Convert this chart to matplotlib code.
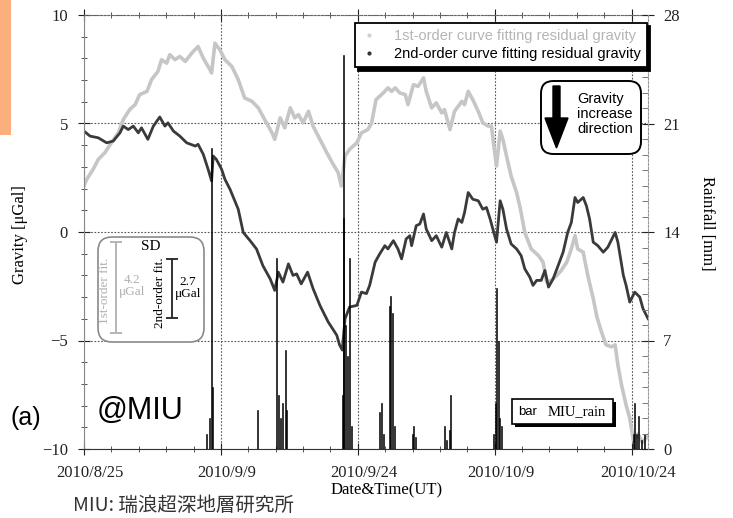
import matplotlib.pyplot as plt
import numpy as np
from matplotlib.lines import Line2D
from matplotlib.patches import FancyBboxPatch, FancyArrow, Rectangle
import matplotlib.transforms as mtransforms

plt.rcParams['font.family'] = ['Liberation Serif', 'DejaVu Serif']

# time axis: days since 2010/8/25 00:00 UT
g1_day = [0.0, 0.3, 1.0, 1.57, 2.3, 3.0, 3.76, 4.3, 5.0, 5.6, 6.1, 6.9, 7.4, 8.1, 8.5,
          9.06, 9.4, 9.97, 10.5, 11.1, 11.8, 12.5, 13.07, 13.8, 13.98, 14.35, 14.9,
          15.44, 16.2, 16.9, 17.6, 18.4, 19.1, 19.8, 20.6, 20.9, 21.5, 22.0, 22.6,
          23.1, 23.5, 24.0, 24.6, 25.1, 25.85, 26.6, 27.3, 27.85, 28.2, 28.6, 29.1,
          29.9, 30.4, 31.1, 31.5, 32.0, 32.8, 33.3, 33.7, 34.1, 34.6, 35.2, 35.5,
          36.1, 36.6, 37.2, 37.5, 38.1, 38.6, 39.2, 39.5, 40.1, 40.6, 41.0, 41.4,
          41.7, 42.1, 42.6, 43.2, 43.7, 44.3, 44.65, 45.0, 45.2, 45.6, 45.9, 46.3,
          46.8, 47.4, 47.8, 48.3, 49.0, 49.8, 50.3, 50.7, 51.2, 51.8, 52.3, 52.9,
          53.4, 53.8, 54.1, 54.7, 55.2, 55.8, 56.2, 56.7, 57.2, 57.8, 58.2, 58.5,
          58.9, 59.4, 59.8, 60.2, 60.7, 61.2, 61.8]
g1_val = [2.12, 2.43, 2.89, 3.35, 3.66, 4.11, 4.57, 5.18, 5.64, 5.87, 6.33, 6.48, 7.02,
          7.4, 7.94, 7.78, 8.17, 7.94, 8.09, 7.86, 8.24, 8.55, 8.01, 7.48, 7.33, 8.7,
          8.39, 7.94, 7.63, 7.02, 6.18, 6.02, 5.72, 5.18, 4.57, 4.27, 5.26, 4.8, 5.72,
          5.26, 5.41, 5.03, 5.56, 4.88, 4.27, 3.66, 3.12, 2.74, 2.12, 3.5, 3.81, 4.11,
          4.57, 4.72, 5.0, 6.1, 6.41, 6.64, 6.48, 6.64, 6.41, 6.33, 5.87, 6.79, 6.71,
          7.1, 6.48, 5.72, 5.95, 5.49, 5.64, 4.72, 5.56, 5.79, 6.02, 5.87, 6.48, 6.1,
          5.56, 5.03, 4.88, 4.88, 3.66, 3.04, 4.65, 4.27, 3.5, 2.58, 1.82, 1.1, -0.02,
          -0.78, -1.09, -1.39, -2.31, -2.23, -2.0, -1.77, -1.39, -0.78, -0.17, -0.78,
          -0.93, -2.0, -3.07, -3.91, -4.6, -5.2, -5.29, -5.2, -6.13, -7.05, -7.97,
          -8.58, -9.6, -9.3, -9.7, -9.4]

g2_day = [0.0, 0.66, 1.57, 2.48, 3.2, 3.94, 4.3, 4.85, 5.4, 5.95, 6.3, 7.0, 7.6, 8.3,
          8.87, 9.2, 9.8, 10.5, 11.25, 12.2, 12.5, 13.07, 13.6, 13.98, 14.16, 14.5,
          15.08, 15.44, 16.0, 16.9, 17.45, 18.2, 18.9, 19.6, 20.4, 20.9, 21.3, 21.8,
          22.4, 22.9, 23.3, 23.8, 24.5, 25.1, 25.85, 26.75, 27.7, 28.0, 28.3, 28.6,
          29.1, 29.9, 30.4, 30.95, 31.3, 31.9, 32.4, 32.97, 33.3, 33.9, 34.4, 34.8,
          35.3, 35.7, 35.9, 36.4, 36.8, 37.2, 37.5, 38.1, 38.6, 39.2, 39.7, 40.3,
          40.6, 41.0, 41.4, 41.7, 42.1, 42.6, 43.2, 43.7, 44.1, 44.5, 45.0, 45.2,
          45.6, 45.9, 46.3, 46.8, 47.4, 47.9, 48.3, 48.85, 49.2, 49.6, 50.1, 50.5,
          50.9, 51.4, 51.95, 52.5, 53.0, 53.4, 53.8, 54.1, 54.7, 55.05, 55.4, 55.8,
          56.3, 56.9, 57.4, 58.2, 58.5, 59.1, 59.4, 59.8, 60.35, 60.9, 61.25, 61.8]
g2_val = [4.65, 4.42, 4.34, 4.11, 4.19, 4.57, 4.88, 4.72, 4.88, 4.57, 4.8, 4.27, 4.88,
          5.3, 4.88, 5.03, 4.65, 4.42, 4.11, 3.96, 4.04, 3.58, 2.89, 2.35, 3.5, 3.35,
          2.89, 2.43, 1.97, 1.05, -0.02, -0.4, -0.78, -1.55, -2.16, -2.69, -1.85,
          -2.31, -1.47, -2.0, -1.93, -2.39, -1.85, -2.61, -3.38, -4.14, -4.76, -5.2,
          -5.44, -4.0, -3.46, -3.38, -2.77, -2.84, -2.46, -1.39, -1.01, -0.63, -0.78,
          -0.4, -0.78, -1.24, -0.32, -0.17, -0.63, 0.29, 0.37, 0.83, 0.14, -0.4, -0.17,
          -0.7, -0.02, -0.78, -0.02, 0.6, 0.44, 0.9, 1.82, 1.51, 1.44, 1.05, 1.13, 0.6,
          -0.17, -0.47, 1.44, 1.05, 0.14, -0.55, -0.78, -1.09, -1.7, -2.08, -2.46,
          -2.23, -2.23, -1.77, -2.54, -2.16, -1.55, -0.93, -0.02, 0.44, 1.59, 1.36,
          1.59, 1.21, 0.6, -0.47, -0.63, -0.93, -0.7, -0.02, -0.47, -2.0, -2.46, -3.23,
          -2.77, -3.0, -3.53, -3.99]

rain_day = [13.47, 13.8, 14.02, 14.13, 19.06, 21.14, 21.36, 21.58, 21.8, 22.12, 22.23,
            28.37, 28.4, 28.48, 28.7, 28.9, 29.13, 29.35, 32.42, 32.64, 32.86, 33.5,
            33.6, 33.8, 34.06, 36.03, 36.14, 36.36, 39.54, 39.76, 40.09, 40.2, 44.9,
            45.1, 45.23, 45.45, 45.56, 45.78, 60.24, 60.35, 60.57, 60.79, 61.12, 61.45]
rain_mm = [1.0, 2.0, 19.4, 4.0, 2.5, 12.3, 3.5, 2.0, 3.0, 6.4, 2.5,
           3.5, 14.9, 25.4, 8.0, 6.0, 12.3, 1.5, 2.4, 3.0, 1.0, 9.2,
           9.9, 8.8, 1.5, 1.0, 1.5, 0.8, 1.5, 0.6, 1.2, 3.5, 1.0,
           3.0, 10.4, 7.0, 2.0, 1.5, 1.0, 3.0, 1.0, 2.1, 0.6, 1.0]

xtick_day = [0, 15, 30, 45, 60]
xtick_lab = ['2010/8/25', '2010/9/9', '2010/9/24', '2010/10/9', '2010/10/24']
sd_lab = ['1st-order fit.', '2nd-order fit.']
sd_val = [4.2, 2.7]

W, H = 733, 518
L, R, T, B = 84, 648, 15, 449


def px(x, y):
    # pixel position -> axes fraction
    return (x - L) / (R - L), (B - y) / (B - T)


fig = plt.figure(figsize=(W / 100, H / 100), dpi=100)
ax = fig.add_axes([L / W, 1 - B / H, (R - L) / W, (B - T) / H])
ax2 = ax.twinx()

ax.plot(g1_day, g1_val, color='#c6c6c6', lw=2.6, solid_joinstyle='round')
ax.plot(g2_day, g2_val, color='#3a3a3a', lw=2.0, solid_joinstyle='round')
ax2.bar(rain_day, rain_mm, width=0.1, color='black', ec='black', linewidth=0.4)

ax.set_xlim(0, 61.8)
ax.set_ylim(-10, 10)
ax2.set_ylim(0, 28)
ax.set_xticks(xtick_day, xtick_lab)
ax.set_xticks(np.arange(0, 61.8, 3), minor=True)
ax.set_yticks(np.arange(-10, 11, 5))
ax.set_yticks(np.arange(-10, 11, 1), minor=True)
ax2.set_yticks(np.arange(0, 29, 7))
ax2.set_yticks(np.arange(0, 29, 1), minor=True)

ax.tick_params(which='major', direction='inout', length=8, width=0.8, top=True,
               right=False, labelsize=12, pad=7.5, colors='#222')
ax.tick_params(which='minor', direction='inout', length=5, width=0.7, top=True,
               right=False, colors='#555')
ax2.tick_params(which='major', direction='inout', length=8, width=0.8, labelsize=12,
                pad=7, colors='#222')
ax2.tick_params(which='minor', direction='in', length=4, width=0.7, colors='#777')

off = mtransforms.ScaledTranslation(0.06, 0, fig.dpi_scale_trans)
for lab in ax.get_xticklabels():
    lab.set_transform(lab.get_transform() + off)

ax.grid(True, which='major', ls=(0, (1.5, 1.5)), color='#555', lw=0.8)
ax.spines['top'].set_linestyle((0, (2, 1.5)))
ax.spines['top'].set_color('#666')
ax.spines['left'].set_color('#888')
ax.spines['bottom'].set_color('#333')
ax.spines['right'].set_visible(False)
for s in ['top', 'left', 'bottom']:
    ax2.spines[s].set_visible(False)
ax2.spines['right'].set_color('#999')
ax2.spines['right'].set_linestyle((0, (2, 1.5)))

ax.set_xlabel('Date&Time(UT)', fontsize=12, va='center')
ax.xaxis.set_label_coords(*px(387, 490))
ax.set_ylabel('Gravity [\u03bcGal]', fontsize=12, va='center', ha='center')
ax.yaxis.set_label_coords(*px(20, 235))
ax2.set_ylabel('Rainfall [mm]', fontsize=12, rotation=270, va='center', ha='center')
ax2.yaxis.set_label_coords(*px(707, 223))

# legend
handles = [Line2D([], [], ls='none', marker='.', ms=4, color='#d0d0d0'),
           Line2D([], [], ls='none', marker='.', ms=4, color='#333')]
leg = ax2.legend(handles, ['1st-order curve fitting residual gravity',
                           '2nd-order curve fitting residual gravity'],
                 loc='upper right', bbox_to_anchor=px(647, 22.7),
                 prop={'family': 'Liberation Sans', 'size': 10.5},
                 labelcolor=['#b5b5b5', 'black'], handlelength=1.0,
                 handletextpad=1.2, borderpad=0.45, labelspacing=0.25,
                 borderaxespad=0, fancybox=False, framealpha=1, edgecolor='black',
                 shadow={'ox': 2.5, 'oy': -2.5, 'color': 'black', 'alpha': 1})
leg.get_frame().set_linewidth(1.3)

asp = (R - L) / (B - T)

# gravity direction box
x0, y0 = px(541, 154)
x1, y1 = px(641, 81)
ax2.add_patch(FancyBboxPatch((x0, y0), x1 - x0, y1 - y0,
                             boxstyle='round,pad=0,rounding_size=0.022',
                             mutation_aspect=asp, transform=ax2.transAxes,
                             fc='white', ec='black', lw=1.4))
ax0, ay0 = px(556.5, 86)
ax2.add_patch(FancyArrow(ax0, ay0, 0, -62 / (B - T), width=7 / (R - L),
                         head_width=23 / (R - L), head_length=30 / (B - T),
                         length_includes_head=True, transform=ax2.transAxes,
                         fc='black', ec='black'))
ax2.text(*px(577, 114), 'Gravity\nincrease\ndirection', transform=ax2.transAxes,
         ha='left', va='center', fontsize=10.5, family='Liberation Sans',
         linespacing=1.05)

# SD box
x0, y0 = px(98, 342)
x1, y1 = px(204, 237)
ax2.add_patch(FancyBboxPatch((x0, y0), x1 - x0, y1 - y0,
                             boxstyle='round,pad=0,rounding_size=0.025',
                             mutation_aspect=asp, transform=ax2.transAxes,
                             fc='white', ec='#8a8a8a', lw=1.2, zorder=3))
ax2.text(*px(151, 246), 'SD', transform=ax2.transAxes, ha='center', va='center',
         fontsize=11)
# SD bars drawn in gravity units, converted to the rain axis scale
mm_per_ugal = 28 / 20
for xd, yc, v, c in [(3.5, -2.57, sd_val[0], '#b0b0b0'), (9.6, -2.6, sd_val[1], '#222')]:
    ax2.errorbar([xd], [(yc + 10) * mm_per_ugal], yerr=[v / 2 * mm_per_ugal], color=c,
                 capsize=4, elinewidth=1.3, capthick=1.3, zorder=5)
ax2.text(*px(105, 291), sd_lab[0], transform=ax2.transAxes, rotation=90,
         ha='center', va='center', fontsize=9.5, color='#b0b0b0')
ax2.text(*px(132, 286), '%.1f\n\u03bcGal' % sd_val[0], transform=ax2.transAxes,
         ha='center', va='center', fontsize=9.5, color='#b0b0b0', linespacing=1.0)
ax2.text(*px(160, 293), sd_lab[1], transform=ax2.transAxes, rotation=90,
         ha='center', va='center', fontsize=9.5, color='black')
ax2.text(*px(188, 288), '%.1f\n\u03bcGal' % sd_val[1], transform=ax2.transAxes,
         ha='center', va='center', fontsize=9.5, color='black', linespacing=1.0)

# rain legend box
x0, y0 = px(512, 424)
x1, y1 = px(613, 399)
sx, sy = 3 / (R - L), 3 / (B - T)
ax2.add_patch(Rectangle((x0 + sx, y0 - sy), x1 - x0, y1 - y0, transform=ax2.transAxes,
                        fc='black', ec='none'))
ax2.add_patch(Rectangle((x0, y0), x1 - x0, y1 - y0, transform=ax2.transAxes,
                        fc='white', ec='black', lw=1.2))
ax2.text(*px(518, 412), 'bar', transform=ax2.transAxes, ha='left', va='center',
         fontsize=9.5, family='Liberation Sans')
ax2.text(*px(548, 412), 'MIU_rain', transform=ax2.transAxes, ha='left', va='center',
         fontsize=10.5)

# figure-level annotations
fig.patches.append(Rectangle((0, 1 - 135 / H), 11 / W, 135 / H, transform=fig.transFigure,
                             fc='#fbaf7c', ec='none'))
fig.text(11 / W, 1 - 418 / H, '(a)', fontsize=18, family='Liberation Sans',
         va='center', ha='left')
fig.text(97 / W, 1 - 411 / H, '@MIU', fontsize=22, family='Liberation Sans',
         va='center', ha='left')
fig.text(73 / W, 1 - 505 / H, 'MIU: 瑞浪超深地層研究所', fontsize=14, color='#333',
         family=['Noto Sans CJK JP', 'DejaVu Sans'], va='center', ha='left')

fig.savefig('out.png', dpi=100)
